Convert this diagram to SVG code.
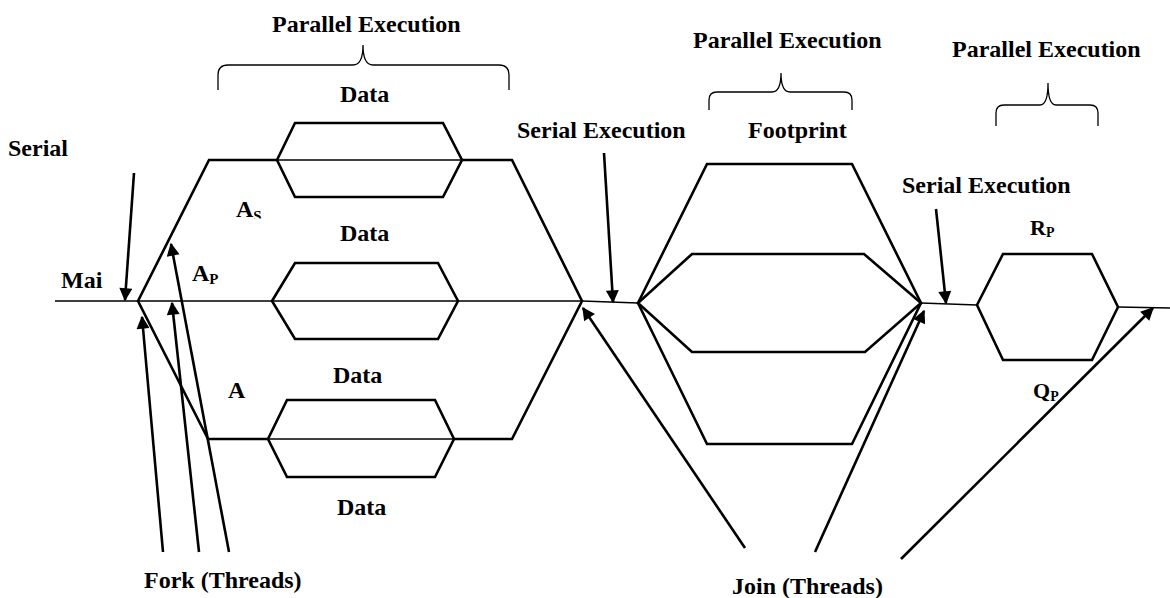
<svg xmlns="http://www.w3.org/2000/svg" width="1170" height="598" viewBox="0 0 1170 598">
<style>
text{font-family:"Liberation Serif","Times New Roman",serif;font-weight:bold;font-size:24px;fill:#000}
.sub{font-size:15px}
.thick{fill:none;stroke:#000;stroke-width:2.6;stroke-linejoin:miter}
.thin{fill:none;stroke:#000;stroke-width:1.3}
.brace{fill:none;stroke:#000;stroke-width:1.3}
.arr{fill:none;stroke:#000;stroke-width:2.6;marker-end:url(#ah)}
</style>
<defs>
<marker id="ah" viewBox="0 0 10 10" refX="9" refY="5" markerWidth="16" markerHeight="13" markerUnits="userSpaceOnUse" orient="auto">
<path d="M0,0 L10,5 L0,10 z" fill="#000"/>
</marker>
<clipPath id="clipAS"><rect x="200" y="190" width="100" height="28.5"/></clipPath>
</defs>
<rect width="1170" height="598" fill="#fff"/>

<g id="main-line">
<polyline class="thin" points="55,301 582,301 638,303"/>
<polyline class="thin" points="921,303 977,305"/>
<polyline class="thin" points="1118,307 1170,308"/>
</g>

<g id="parallel-region-1">
<polyline class="thick" points="277,160 209,160 138,301 208,439 268,439"/>
<polyline class="thick" points="462,160 512,160 582,301 512,439 454,439"/>
</g>

<g id="data-hex-1">
<polygon class="thick" points="277,160 295,123 443,123 462,160 443,197 295,197"/>
<line class="thin" x1="277" y1="160" x2="462" y2="160"/>
</g>
<g id="data-hex-2">
<polygon class="thick" points="272,301 295,263 438,263 458,301 438,339 295,339"/>
</g>
<g id="data-hex-3">
<polygon class="thick" points="268,439 287,400 435,400 454,439 435,477 287,477"/>
<line class="thin" x1="268" y1="439" x2="454" y2="439"/>
</g>

<g id="footprint-outer">
<polygon class="thick" points="638,303 707,164 852,164 921,303 852,444 707,444"/>
</g>
<g id="footprint-inner">
<polygon class="thick" points="638,303 692,254 864,254 921,303 865,352 692,352"/>
</g>

<g id="rp-hex">
<polygon class="thick" points="977,305 1003,254 1092,254 1118,307 1092,360 1003,360"/>
</g>

<g id="braces">
<path class="brace" d="M218,90 V75 Q218,65 228,65 H353 Q363,65 363,45 Q363,65 373,65 H499 Q509,65 509,75 V90"/>
<path class="brace" d="M709,110 V100 Q709,92 717,92 H772 Q781,92 781,73 Q781,92 790,92 H844 Q852,92 852,100 V110"/>
<path class="brace" d="M996,126 V113 Q996,105 1004,105 H1040 Q1048,105 1048,83 Q1048,105 1056,105 H1090 Q1098,105 1098,113 V126"/>
</g>

<g id="connectors">
<line class="arr" x1="134" y1="173" x2="125" y2="300"/>
<line class="arr" x1="163" y1="552" x2="142" y2="317"/>
<line class="arr" x1="199" y1="552" x2="172" y2="303"/>
<line class="arr" x1="229" y1="552" x2="171" y2="244"/>
<line class="arr" x1="604" y1="153" x2="613" y2="302"/>
<line class="arr" x1="745" y1="548" x2="583" y2="308"/>
<line class="arr" x1="815" y1="552" x2="924" y2="311"/>
<line class="arr" x1="936" y1="209" x2="946" y2="303"/>
<line class="arr" x1="901" y1="559" x2="1153" y2="308"/>
</g>

<g id="labels">
<text x="272" y="32">Parallel Execution</text>
<text x="693" y="48">Parallel Execution</text>
<text x="952" y="57">Parallel Execution</text>
<text x="340" y="102">Data</text>
<text x="340" y="241">Data</text>
<text x="333" y="383">Data</text>
<text x="337" y="515">Data</text>
<text x="8" y="156">Serial</text>
<text x="517" y="138">Serial Execution</text>
<text x="748" y="138">Footprint</text>
<text x="902" y="193">Serial Execution</text>
<text x="61" y="288">Mai</text>
<g clip-path="url(#clipAS)"><text x="236" y="217">A<tspan class="sub" dy="4">S</tspan></text></g>
<text x="192" y="281">A<tspan class="sub" dy="3">P</tspan></text>
<text x="228" y="398">A</text>
<text x="1030" y="235" style="font-size:22px">R<tspan style="font-size:14px" dy="2">P</tspan></text>
<text x="1033" y="398" style="font-size:22px">Q<tspan style="font-size:14px" dy="3">P</tspan></text>
<text x="144" y="588">Fork (Threads)</text>
<text x="732" y="594">Join (Threads)</text>
</g>
</svg>
